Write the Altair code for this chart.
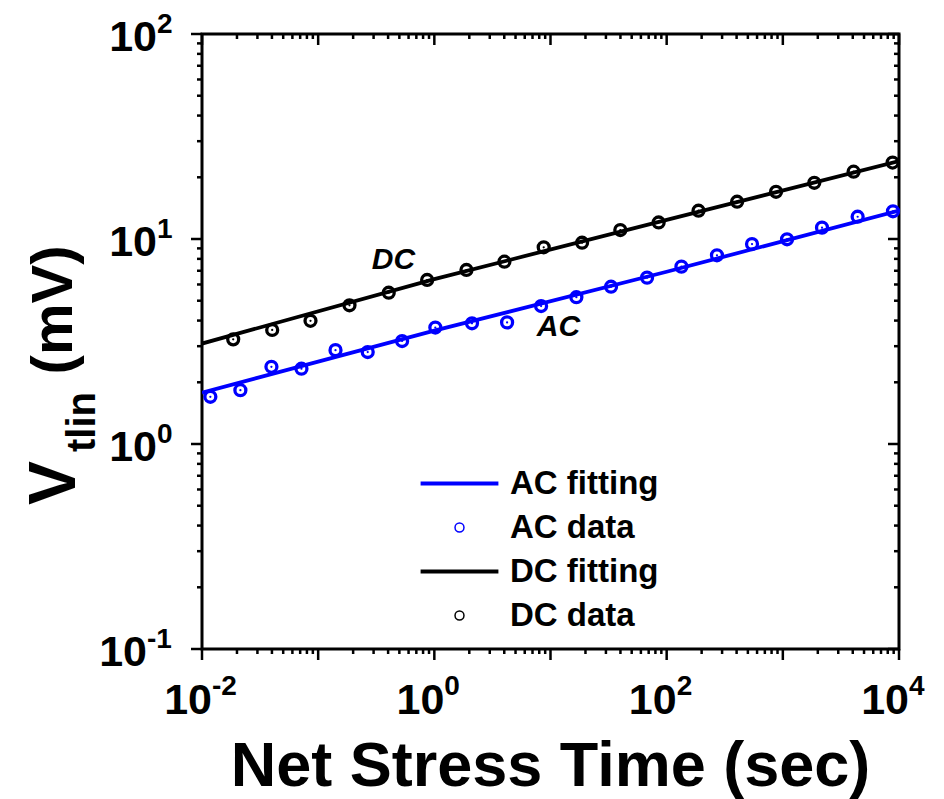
import altair as alt
import pandas as pd

# ---------------- data ----------------
ac_t = [0.0118, 0.0214, 0.0396, 0.0718, 0.141, 0.267, 0.528, 1.02, 2.11, 4.23, 8.30,
        16.7, 33.2, 67.8, 134, 271, 543, 1087, 2174, 4405, 8875]
ac_v = [1.70, 1.83, 2.38, 2.33, 2.87, 2.81, 3.18, 3.70, 3.88, 3.92, 4.71,
        5.20, 5.85, 6.48, 7.33, 8.33, 9.45, 9.97, 11.36, 12.84, 13.65]

dc_t = [0.01856, 0.0402, 0.0859, 0.186, 0.405, 0.867, 1.89, 4.01, 8.74, 18.7, 39.9,
        85.3, 188, 404, 874, 1866, 4066, 8810]
dc_v = [3.24, 3.60, 3.99, 4.75, 5.47, 6.31, 7.06, 7.75, 9.11, 9.59, 11.06,
        12.04, 13.74, 15.2, 17.0, 18.8, 21.3, 23.6]

fit_t = [0.01, 1, 100, 10000]
ac_fit = [1.78, 3.57, 6.92, 13.76]
dc_fit = [3.09, 6.37, 12.4, 24.0]

series_order = ["AC fitting", "AC data", "DC fitting", "DC data"]
series_colors = ["#0000ff", "#0000ff", "#000000", "#000000"]
# legend symbol for a fit line: a long thick stroke; for data: a circle
line_symbol = "M-8.7,-0.28H8.7M-8.7,0H8.7M-8.7,0.28H8.7"
series_shapes = [line_symbol, "circle", line_symbol, "circle"]

annot_text = ["DC", "AC"]
annot_t = [0.445, 11.7]
annot_v = [7.9, 3.72]

x_major = [0.01, 0.1, 1, 10, 100, 1000, 10000]
x_minor = [m * 10.0 ** e for e in range(-2, 4) for m in range(2, 10)]
y_major = [0.1, 1, 10, 100]
y_minor = [m * 10.0 ** e for e in range(-1, 2) for m in range(2, 10)]

x_label_ticks = [0.01, 1, 100, 10000]
x_label_exp = ["-2", "0", "2", "4"]
y_label_ticks = [0.1, 1, 10, 100]
y_label_exp = ["-1", "0", "1", "2"]

x_title = "Net Stress Time (sec)"
y_title_main = "V"
y_title_sub = "tlin"
y_title_unit = "(mV)"

# ---------------- tables ----------------
fit_df = pd.DataFrame({
    "t": fit_t + fit_t,
    "v": ac_fit + dc_fit,
    "series": ["AC fitting"] * len(fit_t) + ["DC fitting"] * len(fit_t),
})
pts_df = pd.DataFrame({
    "t": ac_t + dc_t,
    "v": ac_v + dc_v,
    "series": ["AC data"] * len(ac_t) + ["DC data"] * len(dc_t),
})
annot_df = pd.DataFrame({"t": annot_t, "v": annot_v, "label": annot_text})
xmaj_df = pd.DataFrame({"value": x_major})
xmin_df = pd.DataFrame({"value": x_minor})
ymaj_df = pd.DataFrame({"value": y_major})
ymin_df = pd.DataFrame({"value": y_minor})
xlab_df = pd.DataFrame({"t": x_label_ticks, "exp": x_label_exp})
ylab_df = pd.DataFrame({"v": y_label_ticks, "exp": y_label_exp})
one_df = pd.DataFrame({"a": [0]})

FONT = "Liberation Sans"
W, H = 697, 615

xs = alt.Scale(type="log", domain=[0.01, 10000])
ys = alt.Scale(type="log", domain=[0.1, 100])
cs = alt.Scale(domain=series_order, range=series_colors)
ss = alt.Scale(domain=series_order, range=series_shapes)

X = alt.X("t:Q", scale=xs, axis=None)
Y = alt.Y("v:Q", scale=ys, axis=None)

legend = alt.Legend(
    title=None, orient="none", legendX=200, legendY=433,
    labelFont=FONT, labelFontSize=33, labelFontWeight="bold", labelColor="black",
    symbolSize=80, symbolStrokeWidth=1.5, symbolOffset=41, labelOffset=34,
    rowPadding=10, symbolOpacity=1, symbolFillColor="transparent",
)

color_of = dict(zip(series_order, series_colors))

line_layers = [
    alt.Chart(fit_df).transform_filter(alt.datum.series == s)
    .mark_line(strokeWidth=3.8, clip=True, color=color_of[s])
    .encode(x=X, y=Y)
    for s in ["AC fitting", "DC fitting"]
]

points = alt.Chart(pts_df).mark_point(filled=False, size=120, strokeWidth=3.3, opacity=1).encode(
    x=X, y=Y,
    color=alt.Color("series:N", scale=cs, legend=legend),
    shape=alt.Shape("series:N", scale=ss, legend=legend))

dot_layers = [
    alt.Chart(pts_df).transform_filter(alt.datum.series == s)
    .mark_circle(size=5, opacity=1, color=color_of[s])
    .encode(x=X, y=Y)
    for s in ["AC data", "DC data"]
]

annots = alt.Chart(annot_df).mark_text(
    font=FONT, fontSize=30, fontWeight="bold", fontStyle="italic", color="black",
    align="center", baseline="middle").encode(x=X, y=Y, text="label:N")

def xticks(df, y0, y1):
    return alt.Chart(df).mark_rule(color="black", strokeWidth=2.5).encode(
        x=alt.X("value:Q", scale=xs, axis=None), y=alt.value(y0), y2=alt.value(y1))

def yticks(df, x0, x1):
    return alt.Chart(df).mark_rule(color="black", strokeWidth=2.5).encode(
        y=alt.Y("value:Q", scale=ys, axis=None), x=alt.value(x0), x2=alt.value(x1))

ticks = [
    xticks(xmaj_df, H, H + 11), xticks(xmin_df, H, H + 5),
    xticks(xmaj_df, 0, 11), xticks(xmin_df, 0, 5),
    yticks(ymaj_df, 0, -11), yticks(ymin_df, 0, -5),
    yticks(ymaj_df, W, W - 11), yticks(ymin_df, W, W - 5),
]

xlab10 = alt.Chart(xlab_df).mark_text(
    font=FONT, fontSize=43, fontWeight="bold", color="black",
    align="right", baseline="alphabetic", dx=10, text="10").encode(
    x=X, y=alt.value(680))
xlabexp = alt.Chart(xlab_df).mark_text(
    font=FONT, fontSize=28, fontWeight="bold", color="black",
    align="left", baseline="alphabetic", dx=10).encode(
    x=X, y=alt.value(661), text="exp:N")

def ylabel_pair(filter_expr, x10):
    ten = alt.Chart(ylab_df).transform_filter(filter_expr).mark_text(
        font=FONT, fontSize=43, fontWeight="bold", color="black",
        align="right", baseline="alphabetic", dy=17, text="10").encode(
        y=Y, x=alt.value(x10))
    exp = alt.Chart(ylab_df).transform_filter(filter_expr).mark_text(
        font=FONT, fontSize=28, fontWeight="bold", color="black",
        align="left", baseline="alphabetic", dy=-1).encode(
        y=Y, x=alt.value(x10), text="exp:N")
    return [ten, exp]

ylabels = ylabel_pair("length(datum.exp) == 1", -45) + ylabel_pair("length(datum.exp) == 2", -55)

xtitle = alt.Chart(one_df).mark_text(
    font=FONT, fontSize=63, fontWeight="bold", color="black",
    align="center", baseline="alphabetic", text=x_title).encode(
    x=alt.value(W / 2), y=alt.value(752))
ytitle_v = alt.Chart(one_df).mark_text(
    font=FONT, fontSize=66, fontWeight="bold", color="black", angle=270,
    align="center", baseline="alphabetic", text=y_title_main).encode(
    x=alt.value(-127), y=alt.value(449))
ytitle_sub = alt.Chart(one_df).mark_text(
    font=FONT, fontSize=40, fontWeight="bold", color="black", angle=270,
    align="center", baseline="alphabetic", text=y_title_sub).encode(
    x=alt.value(-107), y=alt.value(388))
ytitle_unit = alt.Chart(one_df).mark_text(
    font=FONT, fontSize=58, fontWeight="bold", color="black", angle=270,
    align="center", baseline="alphabetic", text=y_title_unit).encode(
    x=alt.value(-130), y=alt.value(276))

chart = alt.layer(
    *line_layers, points, *dot_layers, annots, *ticks,
    xlab10, xlabexp, *ylabels,
    xtitle, ytitle_v, ytitle_sub, ytitle_unit,
).properties(
    width=W, height=H,
    autosize=alt.AutoSizeParams(type="none"),
    padding={"left": 202, "top": 34, "right": 45, "bottom": 150},
    background="white",
).configure_view(stroke="black", strokeWidth=3)

chart.save("out.html", embed_options={"renderer": "svg", "actions": False})
